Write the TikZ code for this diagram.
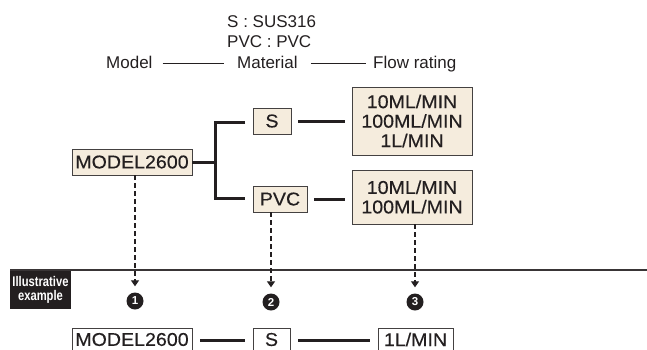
\documentclass[tikz,border=0pt]{standalone}
\usepackage{fontspec}
\setmainfont{Liberation Sans}
\newfontfamily\boxfont[FakeStretch=1.06,FakeBold=0.3]{Liberation Sans}
\newfontfamily\tagfont[FakeStretch=0.8]{Liberation Sans}
\usetikzlibrary{arrows.meta,calc}
\definecolor{boxfill}{HTML}{F5ECDD}
\definecolor{ink}{HTML}{231F20}
\begin{document}
\begin{tikzpicture}[x=1pt,y=-1pt,
  pbox/.style={draw=ink!85, line width=0.8pt, fill=boxfill, inner sep=0pt,
    font=\boxfont\fontsize{18.5}{19.5}\selectfont, text=ink, align=center},
  wtext/.style={inner sep=0pt, font=\boxfont\fontsize{18.5}{19.5}\selectfont, text=ink},
  conn/.style={line width=3pt, draw=ink},
  thinline/.style={line width=0.9pt, draw=ink},
  oframe/.style={line width=0.8pt, draw=ink!85},
  dashar/.style={draw=ink, line width=1.2pt, dash pattern=on 5pt off 3pt,
    -{Triangle[width=8pt,length=6pt]}},
  num/.style={circle, fill=ink, text=white, inner sep=0pt, minimum size=17pt,
    font=\bfseries\fontsize{11.5}{11.5}\selectfont},
  lbl/.style={font=\fontsize{17}{20}\selectfont, text=ink, inner sep=0pt, anchor=base west}
]
\useasboundingbox (0,0) rectangle (647,349);

% top labels
\node[lbl] (sus) at (227,27) {S : SUS316};
\node[lbl] (pvcl) at (227,47) {PVC : PVC};
\node[lbl] (mdl) at (106,68) {Model};
\node[lbl] (mat) at (237,68) {Material};
\node[lbl] (flw) at (373,68) {Flow rating};
\draw[thinline] ([xshift=10pt,yshift=5pt]mdl.base east) -- ([xshift=-13pt,yshift=5pt]mat.base west);
\draw[thinline] ([xshift=13pt,yshift=5pt]mat.base east) -- ([xshift=-7pt,yshift=5pt]flw.base west);

% tree
\node[pbox, minimum width=120pt, minimum height=26pt] (model) at (132,162) {MODEL2600};
\node[pbox, minimum width=38pt, minimum height=26pt] (s) at (272,121) {S};
\node[pbox, minimum width=54pt, minimum height=26pt] (pvc) at (280,199) {PVC};
\node[pbox, minimum width=120pt, minimum height=68pt] (f1) at (412,121) {10ML/MIN\\100ML/MIN\\1L/MIN};
\node[pbox, minimum width=120pt, minimum height=54pt] (f2) at (412,197) {10ML/MIN\\100ML/MIN};

\coordinate (j) at (215,162);
\coordinate (jt) at (215,122);
\coordinate (jb) at (215,198);
\coordinate (sl) at (245,122);
\coordinate (pl) at (245,198);
\draw[conn] (model.east) -- (j);
\draw[conn, line join=miter] (sl) -- (jt) -- (jb) -- (pl);
\draw[conn] ([xshift=7pt]s.east) -- ([xshift=-7pt]s.east -| f1.west);
\draw[conn] ([xshift=7pt]pvc.east) -- ([xshift=-7pt]pvc.east -| f2.west);

% rule and tag
\coordinate (rl) at (10,270);
\coordinate (rr) at (647,270);
\draw[line width=1.2pt, draw=ink!90] (rl) -- (rr);
\node[fill=ink, minimum width=61pt, minimum height=38pt, inner sep=0pt, text=white, align=center,
  font=\tagfont\bfseries\fontsize{14}{14}\selectfont] (tag) at (40.5,290) {Illustrative\\example};

% numbers
\node[num] (n1) at (135,301) {1};
\node[num] (n2) at (271,302) {2};
\node[num] (n3) at (415,302) {3};
\draw[dashar] (n1 |- model.south) -- ([yshift=6pt]n1.north);
\draw[dashar] (n2 |- pvc.south) -- ([yshift=6pt]n2.north);
\draw[dashar] (n3 |- f2.south) -- ([yshift=6pt]n3.north);

% example row (boxes run past the lower edge)
\node[wtext] (bm) at (132,339.5) {MODEL2600};
\node[wtext] (bs) at (271.5,339.5) {S};
\node[wtext] (bf) at (415.5,339.5) {1L/MIN};
\draw[oframe] (72,352) -- (72,328) -- (192,328) -- (192,352);
\draw[oframe] (253,352) -- (253,328) -- (290,328) -- (290,352);
\draw[oframe] (378,352) -- (378,328) -- (453,328) -- (453,352);
\coordinate (c1a) at (200,340);
\coordinate (c1b) at (245,340);
\coordinate (c2a) at (298,340);
\coordinate (c2b) at (370,340);
\draw[conn] (c1a) -- (c1b);
\draw[conn] (c2a) -- (c2b);
\end{tikzpicture}
\end{document}
